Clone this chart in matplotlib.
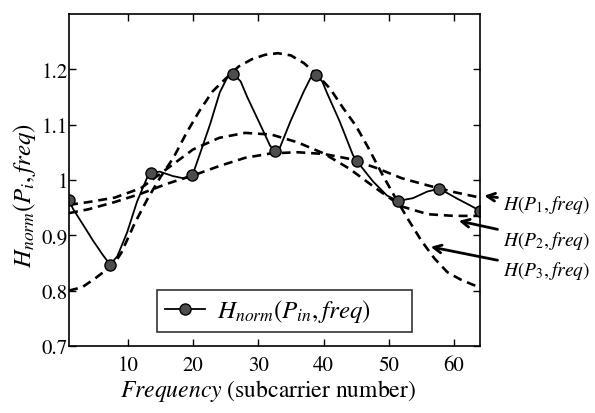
import matplotlib
matplotlib.use("Agg")
import matplotlib.pyplot as plt

plt.rcParams['font.family'] = ['STIXGeneral', 'DejaVu Serif']
plt.rcParams['mathtext.fontset'] = 'stix'

h_x = [1, 1.6, 3.1, 4.7, 6.2, 7.3, 8.4, 9.9, 11.4, 13.0, 13.6, 14.9, 16.9, 18.5, 19.9,
       21.0, 22.6, 24.1, 25.2, 26.2, 27.3, 28.3, 30.3, 31.8, 32.5, 33.3, 34.9, 36.9, 38.0,
       38.8, 39.8, 40.5, 42.5, 44.5, 45.1, 47.6, 49.7, 51.4, 53.7, 55.9, 57.7, 59.0, 60.5,
       62.3, 64]
h_y = [0.964, 0.948, 0.920, 0.890, 0.864, 0.847, 0.862, 0.905, 0.960, 1.005, 1.013, 1.015,
       1.007, 1.003, 1.008, 1.045, 1.100, 1.158, 1.184, 1.191, 1.178, 1.150, 1.100, 1.062,
       1.052, 1.058, 1.105, 1.158, 1.184, 1.190, 1.178, 1.158, 1.105, 1.045, 1.034, 0.997,
       0.972, 0.962, 0.967, 0.979, 0.984, 0.976, 0.966, 0.955, 0.944]

# pilot markers
pilot_x = [1, 7.3, 13.6, 19.9, 26.2, 32.5, 38.8, 45.1, 51.4, 57.7, 64]
pilot_y = [0.964, 0.847, 1.013, 1.008, 1.191, 1.052, 1.190, 1.034, 0.962, 0.984, 0.944]

# fitted curves
p1_x = [1, 4, 8, 12, 16, 20, 24, 28, 32, 36, 40, 44, 48, 52, 56, 60, 64]
p1_y = [0.940, 0.947, 0.960, 0.975, 0.993, 1.008, 1.025, 1.040, 1.048, 1.050, 1.047,
        1.038, 1.022, 1.003, 0.990, 0.978, 0.968]

p2_x = [1, 4, 8, 12, 16, 20, 24, 28, 32, 36, 40, 44, 48, 52, 56, 60, 64]
p2_y = [0.955, 0.960, 0.968, 0.985, 1.020, 1.055, 1.076, 1.085, 1.082, 1.068, 1.048,
        1.020, 0.985, 0.952, 0.938, 0.935, 0.935]

p3_x = [1, 3, 5, 7, 8, 9, 11, 13, 15, 17, 19, 21, 23, 25, 27, 29, 31, 33, 35, 37, 39,
        41, 43, 45, 47, 49, 51, 53, 55, 57, 59, 61, 63, 64]
p3_y = [0.800, 0.806, 0.822, 0.840, 0.850, 0.868, 0.920, 0.965, 1.005, 1.040, 1.085,
        1.125, 1.160, 1.183, 1.205, 1.218, 1.226, 1.229, 1.225, 1.211, 1.190, 1.165,
        1.130, 1.097, 1.055, 1.010, 0.968, 0.928, 0.890, 0.858, 0.833, 0.820, 0.810, 0.807]

x_ticks = [10, 20, 30, 40, 50, 60]
y_ticks = [0.7, 0.8, 0.9, 1.0, 1.1, 1.2]
y_tick_labels = ['0.7', '0.8', '0.9', '1', '1.1', '1.2']

fig = plt.figure(figsize=(5.95, 4.14), dpi=100)
ax = fig.add_axes([0.116, 0.162, 0.691, 0.802])

dash_kw = dict(color='k', lw=1.9, dashes=(3.4, 2.2))
ax.plot(p1_x, p1_y, **dash_kw)
ax.plot(p2_x, p2_y, **dash_kw)
ax.plot(p3_x, p3_y, **dash_kw)
ax.plot(h_x, h_y, color='k', lw=1.3)
ax.plot(pilot_x, pilot_y, ls='none', marker='o', ms=8, mfc='0.3', mec='k', mew=1.0)

# legend proxy
ax.plot([], [], color='k', lw=1.3, marker='o', ms=8, mfc='0.3', mec='k',
        label=r'$H_{norm}(P_{in},freq)$')

ax.set_xlim(1, 64)
ax.set_ylim(0.7, 1.3)
ax.set_xticks(x_ticks)
ax.set_yticks(y_ticks)
ax.set_yticklabels(y_tick_labels)
ax.tick_params(direction='in', top=True, right=True, length=5, width=1.0,
               labelsize=15)
ax.tick_params(axis='x', pad=7)
ax.tick_params(axis='y', pad=1)
for sp in ax.spines.values():
    sp.set_linewidth(1.2)

ax.set_xlabel(r'$\mathit{Frequency}$ (subcarrier number)', fontsize=17)
ax.xaxis.set_label_coords(0.485, -0.095)
ax.set_ylabel(r'$H_{norm}(P_i,freq)$', fontsize=18)
ax.yaxis.set_label_coords(-0.075, 0.455)

leg = ax.legend(loc='lower left', bbox_to_anchor=(0.214, 0.042, 0.621, 0.136),
                mode='expand', borderaxespad=0, fontsize=18, frameon=True,
                fancybox=False, handlelength=1.6, handletextpad=0.5,
                borderpad=0.3, edgecolor='k')
leg.get_frame().set_linewidth(1.2)

arrow_kw = dict(arrowstyle='->', color='k', lw=2.0)
ax.annotate(r'$H(P_1,freq)$', xy=(64.2, 0.972), xytext=(503, 209),
            textcoords='figure pixels', fontsize=14, va='center', ha='left',
            arrowprops=arrow_kw, annotation_clip=False)
ax.annotate(r'$H(P_2,freq)$', xy=(60.3, 0.927), xytext=(503, 173),
            textcoords='figure pixels', fontsize=14, va='center', ha='left',
            arrowprops=arrow_kw, annotation_clip=False)
ax.annotate(r'$H(P_3,freq)$', xy=(56, 0.88), xytext=(503, 143),
            textcoords='figure pixels', fontsize=14, va='center', ha='left',
            arrowprops=arrow_kw, annotation_clip=False)

fig.savefig('out.png', dpi=100)
